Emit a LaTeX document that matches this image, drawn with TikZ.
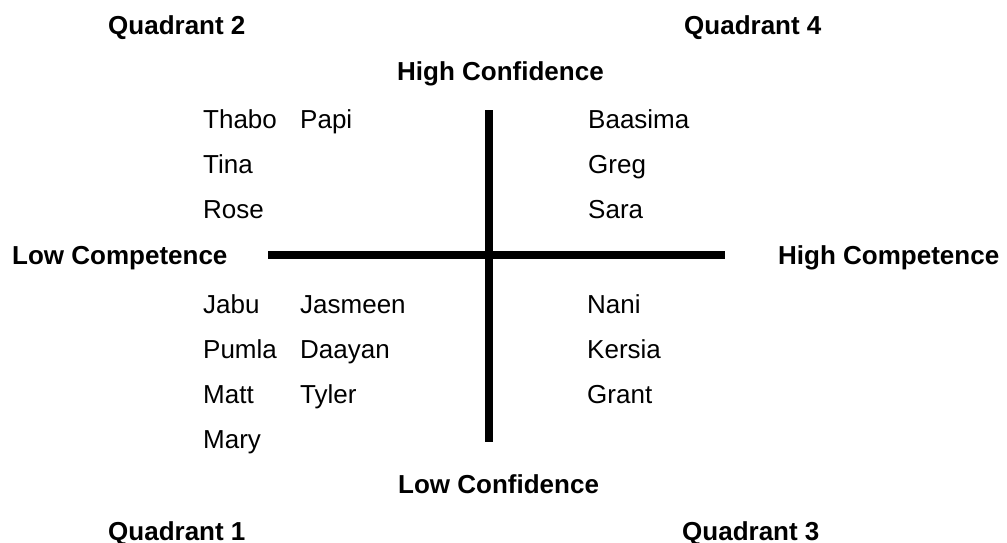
\documentclass[tikz,border=0pt]{standalone}
\usepackage{fontspec}
\setmainfont{Liberation Sans}
\begin{document}
\begin{tikzpicture}[x=1pt,y=-1pt,
  lbl/.style={anchor=base west,inner sep=0pt,font=\fontsize{26}{30}\selectfont},
  hd/.style={lbl,font=\fontsize{26}{30}\selectfont\bfseries},
  axis/.style={line width=8.5pt,line cap=butt,black}]
\useasboundingbox (0,0) rectangle (1007,542);
% headings
\node[hd] (q2) at (108,34) {Quadrant 2};
\node[hd] (q4) at (684,34) {Quadrant 4};
\node[hd] (hconf) at (397,80) {High Confidence};
\node[hd] (lcomp) at (12,264) {Low Competence};
\node[hd] (hcomp) at (778,264) {High Competence};
\node[hd] (lconf) at (398,493) {Low Confidence};
\node[hd] (q1) at (108,540) {Quadrant 1};
\node[hd] (q3) at (682,540) {Quadrant 3};
% axes
\coordinate (vtop) at (489,110);
\coordinate (vbot) at (489,442);
\coordinate (hleft) at (268,255);
\coordinate (hright) at (725,255);
\draw[axis] (vtop) -- (vbot);
\draw[axis] (hleft) -- (hright);
% quadrant 2 names
\node[lbl] (thabo) at (203,128) {Thabo};
\node[lbl] (papi) at (300,128) {Papi};
\node[lbl] (tina) at (203,173) {Tina};
\node[lbl] (rose) at (203,218) {Rose};
% quadrant 4 names
\node[lbl] (baasima) at (588,128) {Baasima};
\node[lbl] (greg) at (588,173) {Greg};
\node[lbl] (sara) at (588,218) {Sara};
% quadrant 1 names
\node[lbl] (jabu) at (203,313) {Jabu};
\node[lbl] (jasmeen) at (300,313) {Jasmeen};
\node[lbl] (pumla) at (203,358) {Pumla};
\node[lbl] (daayan) at (300,358) {Daayan};
\node[lbl] (matt) at (203,403) {Matt};
\node[lbl] (tyler) at (300,403) {Tyler};
\node[lbl] (mary) at (203,448) {Mary};
% quadrant 3 names
\node[lbl] (nani) at (587,313) {Nani};
\node[lbl] (kersia) at (587,358) {Kersia};
\node[lbl] (grant) at (587,403) {Grant};
\end{tikzpicture}
\end{document}
